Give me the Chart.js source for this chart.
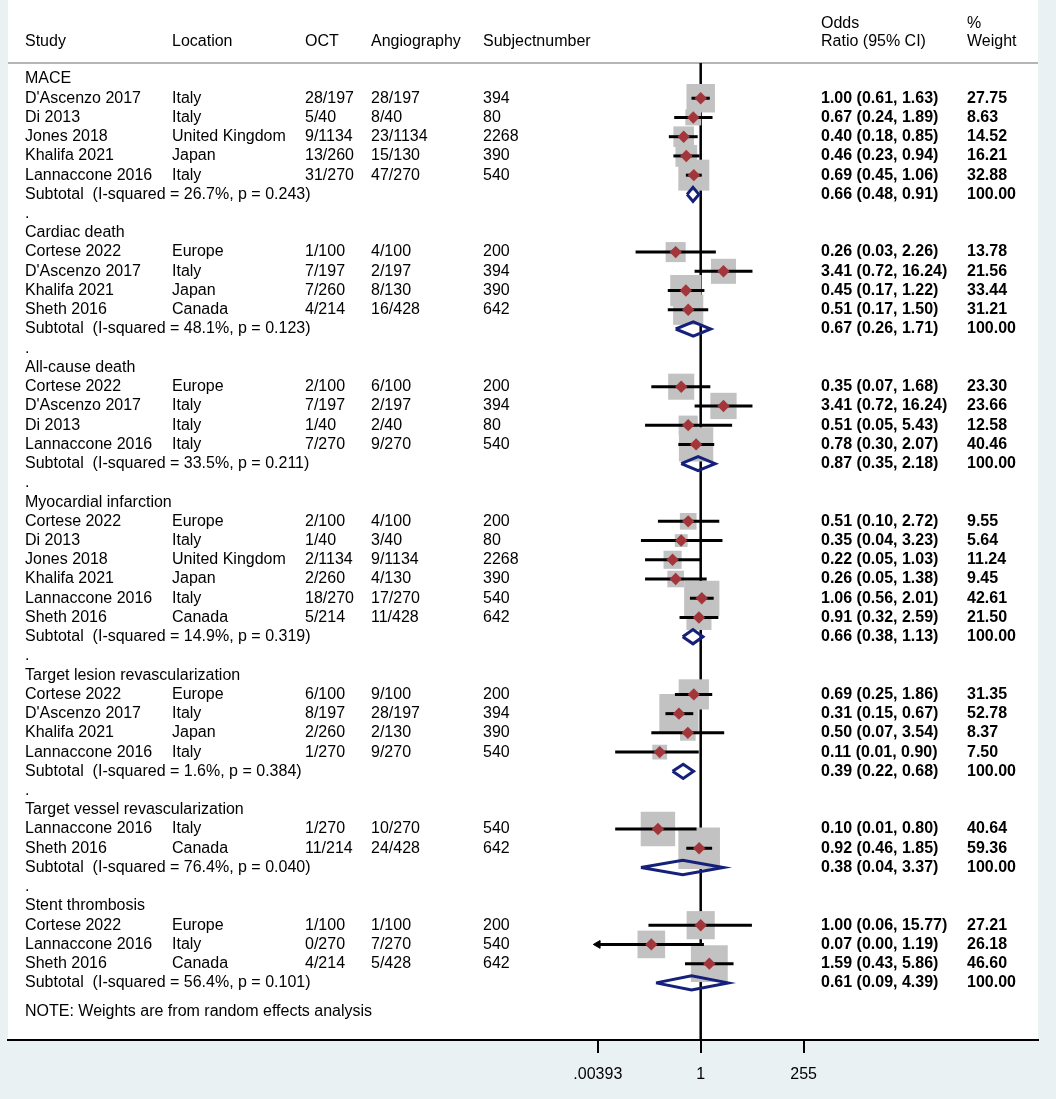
<!DOCTYPE html>
<html>
<head>
<meta charset="utf-8">
<script src="https://cdn.jsdelivr.net/npm/chart.js@4.4.0/dist/chart.umd.min.js"></script>
<style>
  html, body { margin: 0; padding: 0; background: #eaf1f3; }
</style>
</head>
<body>
<canvas id="forest" width="1056" height="1099"></canvas>
<script>
// groups (outcomes)
const groupNames = ["MACE", "Cardiac death", "All-cause death", "Myocardial infarction",
  "Target lesion revascularization", "Target vessel revascularization", "Stent thrombosis"];

// studies
const studyGroup = [0,0,0,0,0, 1,1,1,1, 2,2,2,2, 3,3,3,3,3,3, 4,4,4,4, 5,5, 6,6,6];
const studyNames = ["D'Ascenzo 2017","Di 2013","Jones 2018","Khalifa 2021","Lannaccone 2016",
  "Cortese 2022","D'Ascenzo 2017","Khalifa 2021","Sheth 2016",
  "Cortese 2022","D'Ascenzo 2017","Di 2013","Lannaccone 2016",
  "Cortese 2022","Di 2013","Jones 2018","Khalifa 2021","Lannaccone 2016","Sheth 2016",
  "Cortese 2022","D'Ascenzo 2017","Khalifa 2021","Lannaccone 2016",
  "Lannaccone 2016","Sheth 2016",
  "Cortese 2022","Lannaccone 2016","Sheth 2016"];
const locations = ["Italy","Italy","United Kingdom","Japan","Italy",
  "Europe","Italy","Japan","Canada",
  "Europe","Italy","Italy","Italy",
  "Europe","Italy","United Kingdom","Japan","Italy","Canada",
  "Europe","Italy","Japan","Italy",
  "Italy","Canada",
  "Europe","Italy","Canada"];
const octEvents = ["28/197","5/40","9/1134","13/260","31/270",
  "1/100","7/197","7/260","4/214",
  "2/100","7/197","1/40","7/270",
  "2/100","1/40","2/1134","2/260","18/270","5/214",
  "6/100","8/197","2/260","1/270",
  "1/270","11/214",
  "1/100","0/270","4/214"];
const angioEvents = ["28/197","8/40","23/1134","15/130","47/270",
  "4/100","2/197","8/130","16/428",
  "6/100","2/197","2/40","9/270",
  "4/100","3/40","9/1134","4/130","17/270","11/428",
  "9/100","28/197","2/130","9/270",
  "10/270","24/428",
  "1/100","7/270","5/428"];
const subjects = [394,80,2268,390,540, 200,394,390,642, 200,394,80,540,
  200,80,2268,390,540,642, 200,394,390,540, 540,642, 200,540,642];
const oddsRatio = [1.00,0.67,0.40,0.46,0.69, 0.26,3.41,0.45,0.51, 0.35,3.41,0.51,0.78,
  0.51,0.35,0.22,0.26,1.06,0.91, 0.69,0.31,0.50,0.11, 0.10,0.92, 1.00,0.07,1.59];
const ciLower = [0.61,0.24,0.18,0.23,0.45, 0.03,0.72,0.17,0.17, 0.07,0.72,0.05,0.30,
  0.10,0.04,0.05,0.05,0.56,0.32, 0.25,0.15,0.07,0.01, 0.01,0.46, 0.06,0.00,0.43];
const ciUpper = [1.63,1.89,0.85,0.94,1.06, 2.26,16.24,1.22,1.50, 1.68,16.24,5.43,2.07,
  2.72,3.23,1.03,1.38,2.01,2.59, 1.86,0.67,3.54,0.90, 0.80,1.85, 15.77,1.19,5.86];
const weights = [27.75,8.63,14.52,16.21,32.88, 13.78,21.56,33.44,31.21, 23.30,23.66,12.58,40.46,
  9.55,5.64,11.24,9.45,42.61,21.50, 31.35,52.78,8.37,7.50, 40.64,59.36, 27.21,26.18,46.60];

// subtotals
const subI2 = ["26.7%","48.1%","33.5%","14.9%","1.6%","76.4%","56.4%"];
const subP = ["0.243","0.123","0.211","0.319","0.384","0.040","0.101"];
const subOR = [0.66,0.67,0.87,0.66,0.39,0.38,0.61];
const subLo = [0.48,0.26,0.35,0.38,0.22,0.04,0.09];
const subHi = [0.91,1.71,2.18,1.13,0.68,3.37,4.39];

// x axis ticks
const tickValues = [0.00393, 1, 255];
const tickLabels = [".00393", "1", "255"];
const axisMin = 0.00393;

// row layout
const groupRow = [], studyRow = [], subRow = [], dotRow = [];
let r = 0;
groupNames.forEach((g, gi) => {
  groupRow[gi] = r++;
  studyGroup.forEach((sg, i) => { if (sg === gi) studyRow[i] = r++; });
  subRow[gi] = r++;
  if (gi < groupNames.length - 1) dotRow.push(r++);
});
const noteRow = r + 0.5;
const headRow = -1.93, oddsRow = -2.9, ruleRow = -0.83;
const yMin = -4.108, yMax = 49.97;

const FONT = '"Liberation Sans", Arial, sans-serif';
const col = { study: 25, loc: 172, oct: 305, angio: 371, subj: 483, or: 821, wt: 967 };

// ✅ background + header rule
const framePlugin = {
  id: "frame",
  beforeDraw(chart) {
    const { ctx, chartArea } = chart;
    ctx.save();
    ctx.fillStyle = "#eaf1f3";
    ctx.fillRect(0, 0, chart.width, chart.height);
    ctx.fillStyle = "#ffffff";
    ctx.fillRect(chartArea.left, 0, chartArea.right - chartArea.left, chartArea.bottom);
    ctx.restore();
  },
  beforeDatasetsDraw(chart) {
    const { ctx, chartArea } = chart;
    const y = chart.scales.y.getPixelForValue(ruleRow);
    ctx.save();
    ctx.strokeStyle = "#9c9c9c";
    ctx.lineWidth = 1.5;
    ctx.beginPath();
    ctx.moveTo(chartArea.left, y);
    ctx.lineTo(chartArea.right, y);
    ctx.stroke();
    ctx.restore();
  }
};

// ✅ table text
const textPlugin = {
  id: "tableText",
  afterDraw(chart) {
    const { ctx } = chart;
    const ys = chart.scales.y;
    const py = v => ys.getPixelForValue(v);
    ctx.save();
    ctx.fillStyle = "#000";
    ctx.textBaseline = "middle";
    ctx.textAlign = "left";
    ctx.font = `16px ${FONT}`;
    const put = (t, x, row) => ctx.fillText(t, x, py(row));

    put("Study", col.study, headRow);
    put("Location", col.loc, headRow);
    put("OCT", col.oct, headRow);
    put("Angiography", col.angio, headRow);
    put("Subjectnumber", col.subj, headRow);
    put("Odds", col.or, oddsRow);
    put("Ratio (95% CI)", col.or, headRow);
    put("%", col.wt, oddsRow);
    put("Weight", col.wt, headRow);

    groupNames.forEach((g, gi) => {
      put(g, col.study, groupRow[gi]);
      put(`Subtotal  (I-squared = ${subI2[gi]}, p = ${subP[gi]})`, col.study, subRow[gi]);
    });
    dotRow.forEach(d => put(".", col.study, d));
    studyNames.forEach((s, i) => {
      put(s, col.study, studyRow[i]);
      put(locations[i], col.loc, studyRow[i]);
      put(octEvents[i], col.oct, studyRow[i]);
      put(angioEvents[i], col.angio, studyRow[i]);
      put(String(subjects[i]), col.subj, studyRow[i]);
    });
    put("NOTE: Weights are from random effects analysis", col.study, noteRow);

    ctx.font = `bold 16px ${FONT}`;
    studyNames.forEach((s, i) => {
      put(`${oddsRatio[i].toFixed(2)} (${ciLower[i].toFixed(2)}, ${ciUpper[i].toFixed(2)})`, col.or, studyRow[i]);
      put(weights[i].toFixed(2), col.wt, studyRow[i]);
    });
    groupNames.forEach((g, gi) => {
      put(`${subOR[gi].toFixed(2)} (${subLo[gi].toFixed(2)}, ${subHi[gi].toFixed(2)})`, col.or, subRow[gi]);
      put("100.00", col.wt, subRow[gi]);
    });
    ctx.restore();
  }
};

// ✅ datasets
const studyPts = oddsRatio.map((o, i) => ({ x: o, y: studyRow[i] }));

const ciSets = studyNames.map((s, i) => ({
  data: [{ x: Math.max(ciLower[i], axisMin), y: studyRow[i] }, { x: ciUpper[i], y: studyRow[i] }],
  showLine: true, borderColor: "#000", borderWidth: 3, pointRadius: 0, order: 2
}));

const arrowPts = [];
ciLower.forEach((lo, i) => { if (lo < axisMin) arrowPts.push({ x: axisMin, y: studyRow[i] }); });

const diamondH = 0.37;
const subSets = groupNames.map((g, gi) => ({
  data: [
    { x: subLo[gi], y: subRow[gi] },
    { x: subOR[gi], y: subRow[gi] - diamondH },
    { x: subHi[gi], y: subRow[gi] },
    { x: subOR[gi], y: subRow[gi] + diamondH },
    { x: subLo[gi], y: subRow[gi] }
  ],
  showLine: true, borderColor: "#15207a", borderWidth: 3, borderJoinStyle: "miter",
  pointRadius: 0, fill: false, order: 1
}));

const datasets = [
  { data: studyPts, pointStyle: "rectRot", pointRadius: 6.2, backgroundColor: "#a3363b",
    borderWidth: 0, order: 0 },
  { data: arrowPts, pointStyle: "triangle", rotation: -90, pointRadius: 4.5, backgroundColor: "#000",
    borderColor: "#000", borderWidth: 1, order: 1 },
  ...subSets,
  ...ciSets,
  { data: studyPts, pointStyle: "rect", pointRadius: weights.map(w => 5.4 * Math.sqrt(w) / Math.SQRT2),
    backgroundColor: "#c2c2c2", borderWidth: 0, order: 3 },
  { data: [{ x: 1, y: ruleRow }, { x: 1, y: yMax }], showLine: true, borderColor: "#000",
    borderWidth: 2.5, pointRadius: 0, order: 4 }
];

// log scale range so that the axis spans the whole panel
const pxLeft = 8, pxRight = 1038, pxOne = 700.7, pxPerDecade = 42.76;
const xMin = Math.pow(10, -(pxOne - pxLeft) / pxPerDecade);
const xMax = Math.pow(10, (pxRight - pxOne) / pxPerDecade);

new Chart(document.getElementById("forest"), {
  type: "scatter",
  data: { datasets },
  options: {
    responsive: false,
    devicePixelRatio: 1,
    animation: false,
    layout: { autoPadding: false, padding: { left: pxLeft, right: 1056 - pxRight, top: 0, bottom: 0 } },
    plugins: { legend: { display: false }, tooltip: { enabled: false } },
    scales: {
      x: {
        type: "logarithmic",
        min: xMin,
        max: xMax,
        afterBuildTicks: (scale) => { scale.ticks = tickValues.map(v => ({ value: v })); },
        afterFit: (scale) => { scale.height = 59; },
        ticks: {
          color: "#000",
          font: { family: FONT, size: 16 },
          padding: 12,
          maxRotation: 0,
          autoSkip: false,
          callback: (v) => tickLabels[tickValues.indexOf(v)] ?? ""
        },
        grid: { display: true, drawOnChartArea: false, drawTicks: true, tickLength: 13,
          color: "#000", lineWidth: 2 },
        border: { display: true, color: "#000", width: 2 }
      },
      y: {
        type: "linear",
        reverse: true,
        min: yMin,
        max: yMax,
        display: false
      }
    }
  },
  plugins: [framePlugin, textPlugin]
});
</script>
</body>
</html>
